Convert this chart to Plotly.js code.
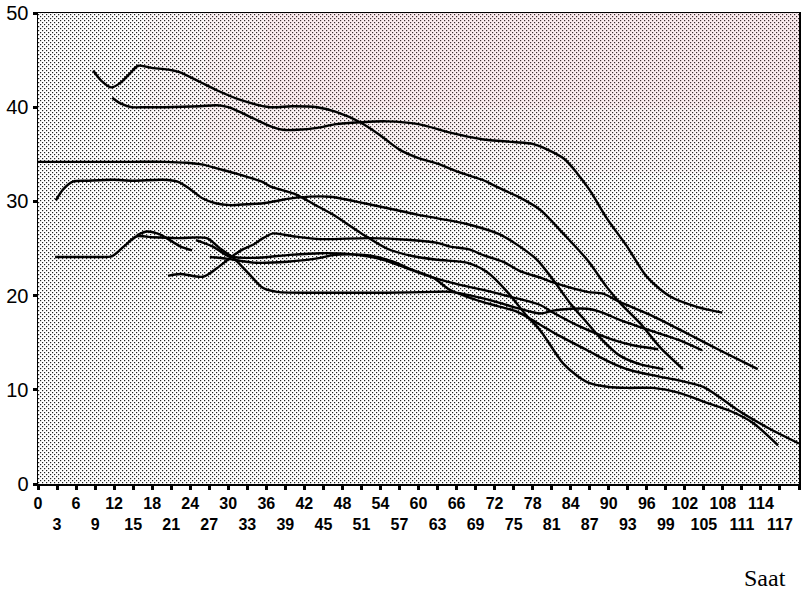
<!DOCTYPE html>
<html>
<head>
<meta charset="utf-8">
<script src="https://cdn.plot.ly/plotly-3.0.1.min.js"></script>
<style>
  html, body { margin: 0; padding: 0; background: #ffffff; }
  #chart { width: 808px; height: 591px; }
</style>
</head>
<body>
<div id="chart"></div>
<script>
// ---- data (hours -> value) ----
const hoursA = [8.7, 10, 11.6, 13, 14.5, 15.8, 17.7, 21.3, 22.4, 25.5, 28.2, 31.8, 36.6, 40, 44, 47, 50.8, 54, 57, 60, 63, 66, 70, 72.8, 76, 79.2, 82.8, 86.6, 89.7, 91.8, 94.9, 98.1, 101.7];
const valsA  = [43.9, 42.8, 42.1, 42.6, 43.6, 44.4, 44.2, 43.9, 43.7, 42.7, 41.8, 40.8, 40, 40.1, 40, 39.5, 38.4, 37, 35.5, 34.6, 34, 33.2, 32.3, 31.4, 30.4, 29.1, 26.6, 23.8, 20.9, 19.2, 17.1, 14.5, 12.2];

const hoursB = [11.7, 13, 14.8, 17, 20, 25.5, 28.2, 30, 31.8, 34, 36.6, 38.6, 41, 44, 47, 50.8, 55, 60, 65, 70, 75, 78, 80, 83, 85, 87, 89.7, 92.9, 96, 99.7, 103.9, 107.9];
const valsB  = [41, 40.4, 40, 40, 40, 40.1, 40.2, 40, 39.5, 38.8, 38, 37.6, 37.6, 37.8, 38.2, 38.4, 38.5, 38.2, 37.3, 36.6, 36.3, 36.1, 35.6, 34.5, 33, 31.2, 28.2, 25.2, 22, 19.9, 18.8, 18.2];

const hoursC = [0, 5, 10, 15, 20, 23.5, 26, 28.2, 31, 33, 35.3, 36.6, 40.8, 43.5, 46.5, 51, 55, 59, 63, 67.6, 70.8, 74, 77, 79.2, 82.8, 85, 87, 90, 93, 97, 101, 105.5, 109, 112.7, 116.7];
const valsC  = [34.2, 34.2, 34.2, 34.2, 34.2, 34.1, 33.9, 33.5, 33, 32.6, 32.1, 31.6, 30.7, 29.7, 28.6, 26.6, 25, 24.2, 23.8, 23.5, 22.5, 20.4, 17.9, 16.3, 12.8, 11.5, 10.7, 10.3, 10.2, 10.2, 9.7, 8.6, 7.8, 6.5, 4.1];

const hoursD = [2.8, 4, 5.5, 8, 11.8, 15, 19.7, 22, 24, 26, 28, 30.3, 33, 35.5, 38, 40.8, 46, 50, 55, 59.8, 63, 67.6, 72.8, 76, 78.7, 81.2, 83.9, 86.6, 89.1, 91.8, 95, 98.6];
const valsD  = [30.1, 31.3, 32.1, 32.2, 32.3, 32.2, 32.3, 32.1, 31.3, 30.3, 29.8, 29.6, 29.7, 29.8, 30.1, 30.4, 30.5, 30, 29.3, 28.6, 28.2, 27.6, 26.5, 25.2, 23.8, 21.7, 19.2, 17.1, 15.2, 13.6, 12.7, 12.2];

const hoursE = [2.7, 6, 9, 11.7, 13.5, 15.6, 18, 22, 26.6, 28.7, 30.8, 33, 35.5, 37.7, 44.5, 50, 55, 62.3, 65, 70.2, 75.5, 79.2, 81.2, 84, 86.6, 89, 91.8, 97, 101, 104.7];
const valsE  = [24.1, 24.1, 24.1, 24.2, 25.2, 26.3, 26.2, 26.1, 26.1, 25, 24, 22.5, 20.8, 20.4, 20.3, 20.3, 20.3, 20.4, 20.4, 19.7, 18.7, 18.1, 18.4, 18.6, 18.6, 18.2, 17.4, 16.2, 15.3, 14.2];

const hoursF = [20.5, 22.4, 26, 28.2, 30.3, 32, 33.9, 35.5, 37.1, 40.2, 44.5, 52.3, 58.7, 63, 65, 68, 70.2, 73.3, 76, 79.2, 81.2, 86.6, 89.1, 91.8, 97, 102.3, 107.5, 113.5];
const valsF  = [22.1, 22.3, 22, 22.9, 24, 24.8, 25.4, 26.1, 26.6, 26.3, 26, 26.1, 25.9, 25.6, 25.2, 24.9, 24.3, 23.6, 22.6, 21.9, 21.4, 20.4, 20.2, 19.3, 17.8, 16, 14.2, 12.2];

const hoursG = [15.6, 17.2, 19.2, 21, 22.5, 24.3];
const valsG  = [26.4, 26.8, 26.5, 25.8, 25.2, 24.8];

const hoursH = [24.9, 27.6, 30, 33.9, 39.3, 44.5, 49.2, 54.4, 58.2, 62.3, 65, 70.2, 75.5, 78.7, 82, 86.6, 90, 93.3, 98, 101, 104.9, 107.5, 110.2, 115, 120];
const valsH  = [25.9, 25.2, 24.2, 24, 24.3, 24.5, 24.4, 23.8, 22.9, 21.9, 20.6, 19.3, 18.3, 17.1, 15.8, 14.2, 13, 12.1, 11.4, 11, 10.3, 9.2, 7.9, 6, 4.3];

const hoursI = [27.1, 30, 33.9, 39.3, 44.5, 46.5, 51.9, 56, 59.8, 65, 70.2, 75.5, 79.2, 81.2, 85.5, 90.7, 94, 97.8];
const valsI  = [24.1, 23.9, 23.5, 23.6, 24, 24.3, 24.3, 23.6, 22.5, 21.4, 20.6, 19.7, 19, 18.2, 16.7, 15.3, 14.7, 14.3];

const xTickVals = [0, 3, 6, 9, 12, 15, 18, 21, 24, 27, 30, 33, 36, 39, 42, 45, 48, 51, 54, 57, 60, 63, 66, 69, 72, 75, 78, 81, 84, 87, 90, 93, 96, 99, 102, 105, 108, 111, 114, 117, 120];
const yTickVals = [0, 10, 20, 30, 40, 50];
const xAxisLabel = 'Saat';

// ---- build traces ----
const seriesList = [
  [hoursA, valsA], [hoursB, valsB], [hoursC, valsC], [hoursD, valsD],
  [hoursE, valsE], [hoursF, valsF], [hoursG, valsG], [hoursH, valsH], [hoursI, valsI]
];
const traces = seriesList.map(function (s) {
  return {
    x: s[0], y: s[1], type: 'scatter', mode: 'lines',
    line: { color: '#000000', width: 2.4, shape: 'spline', smoothing: 0.8 },
    hoverinfo: 'skip', showlegend: false
  };
});

// two-row tick labels: multiples of 6 on the first row, others on the second
const xTickText = xTickVals.map(function (v) { return (v % 6 === 0) ? String(v) : '<br>' + v; });

// soft pink tint of the scanned original, built from a few stacked translucent bands
const tintBands = [
  { x0: 0.14, y0: 0.66, a: 0.05 },
  { x0: 0.22, y0: 0.73, a: 0.05 },
  { x0: 0.30, y0: 0.80, a: 0.05 }
];
const tintShapes = tintBands.map(function (b) {
  return { type: 'rect', xref: 'paper', yref: 'paper', x0: b.x0, x1: 1, y0: b.y0, y1: 1,
           fillcolor: 'rgba(235,140,160,' + b.a + ')', line: { width: 0 }, layer: 'below' };
});

const layout = {
  width: 808, height: 591,
  margin: { l: 38, r: 9, t: 13, b: 107, pad: 0 },
  paper_bgcolor: '#ffffff',
  plot_bgcolor: '#cfcfcf',
  showlegend: false,
  font: { family: 'Liberation Sans, Arial, sans-serif', color: '#000000' },
  xaxis: {
    range: [0, 120], autorange: false,
    tickmode: 'array', tickvals: xTickVals, ticktext: xTickText,
    ticks: 'outside', ticklen: 4, tickwidth: 3, tickcolor: '#000000',
    tickfont: { size: 16, family: 'Liberation Sans Narrow, Liberation Sans, Arial, sans-serif', color: '#000000', weight: 'bold' },
    tickangle: 0,
    showline: true, linecolor: '#000000', linewidth: 1.5, mirror: true,
    showgrid: false, zeroline: false
  },
  yaxis: {
    range: [0, 50], autorange: false,
    tickmode: 'array', tickvals: yTickVals,
    ticks: 'outside', ticklen: 4, tickwidth: 3, tickcolor: '#000000',
    tickfont: { size: 20, family: 'Liberation Sans, Arial, sans-serif', color: '#000000' },
    showline: true, linecolor: '#000000', linewidth: 1.5, mirror: true,
    showgrid: false, zeroline: false
  },
  shapes: tintShapes,
  annotations: [{
    text: xAxisLabel, xref: 'paper', yref: 'paper',
    x: 0.955, y: -0.2, xanchor: 'center', yanchor: 'middle',
    showarrow: false,
    font: { family: 'Liberation Serif, Times New Roman, serif', size: 24, color: '#000000' }
  }]
};

Plotly.newPlot('chart', traces, layout, { staticPlot: true, displayModeBar: false }).then(function (gd) {
  // stippled (dotted) plot background like the scanned original
  try {
    const ns = 'http://www.w3.org/2000/svg';
    const svg = gd.querySelector('svg.main-svg');
    let defs = svg.querySelector('defs');
    if (!defs) { defs = document.createElementNS(ns, 'defs'); svg.insertBefore(defs, svg.firstChild); }
    const pat = document.createElementNS(ns, 'pattern');
    pat.setAttribute('id', 'stipple');
    pat.setAttribute('patternUnits', 'userSpaceOnUse');
    pat.setAttribute('width', '4');
    pat.setAttribute('height', '4');
    const base = document.createElementNS(ns, 'rect');
    base.setAttribute('width', '4'); base.setAttribute('height', '4'); base.setAttribute('fill', '#ffffff');
    pat.appendChild(base);
    [[0, 0], [2, 2]].forEach(function (p) {
      const d = document.createElementNS(ns, 'rect');
      d.setAttribute('x', p[0]); d.setAttribute('y', p[1]);
      d.setAttribute('width', '1.2'); d.setAttribute('height', '1.2');
      d.setAttribute('fill', '#222222');
      pat.appendChild(d);
    });
    defs.appendChild(pat);
    const bg = svg.querySelector('rect.bg');
    if (bg) { bg.style.fill = 'url(#stipple)'; }
  } catch (e) { /* keep plain grey background */ }
});
</script>
</body>
</html>
